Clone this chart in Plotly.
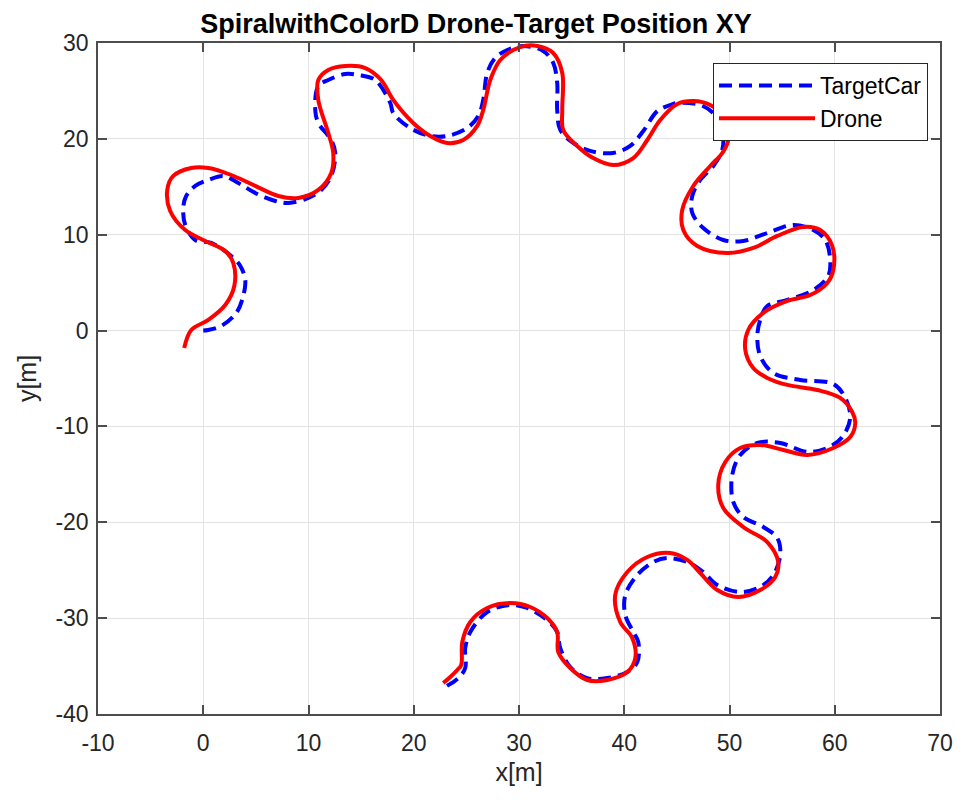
import plotly.graph_objects as go

# ---- Data (metres) ----
target_x = [0.0, 0.48, 1.71, 3.14, 3.80, 3.99, 3.52, 2.66, 0.76, -0.76, -1.71, -1.90, -1.62, -0.76,
            0.48, 1.90, 3.33, 4.94, 6.84, 8.08, 9.98, 11.21, 12.16, 12.54, 12.16, 10.93, 10.64, 10.93,
            11.88, 13.49, 14.73, 16.34, 17.77, 18.05, 19.67, 21.57, 23.18, 25.08, 26.13, 26.60, 26.98,
            27.74, 28.88, 30.40, 32.30, 33.25, 33.63, 33.63, 33.92, 35.15, 36.77, 38.95, 40.57, 41.81,
            43.14, 44.37, 45.04, 47.22, 48.46, 49.31, 49.31, 48.46, 47.22, 46.46, 46.46, 47.51, 49.41,
            51.31, 53.59, 56.06, 57.96, 59.10, 59.57, 59.38, 57.96, 55.49, 53.59, 52.92, 52.64, 52.92,
            54.16, 56.72, 59.86, 61.00, 61.47, 60.71, 59.29, 57.39, 54.82, 52.64, 51.02, 50.26, 50.36,
            51.31, 53.21, 54.54, 54.82, 54.16, 52.92, 51.02, 48.84, 47.51, 45.99, 44.09, 42.76, 41.24,
            40.10, 40.10, 40.86, 41.33, 41.24, 40.29, 38.38, 36.48, 34.87, 33.92, 33.63, 32.68, 30.78,
            29.17, 26.98, 25.37, 24.89, 24.89, 24.23, 22.80]
target_y = [0.0, 0.06, 0.48, 1.84, 3.61, 5.28, 6.74, 7.78, 9.14, 9.45, 11.02, 12.79, 14.04, 15.09,
            15.71, 16.13, 15.40, 14.36, 13.52, 13.31, 13.83, 14.67, 16.13, 18.53, 19.88, 21.66, 23.01,
            25.50, 26.14, 26.77, 26.67, 26.14, 23.74, 22.69, 21.13, 20.30, 20.30, 21.13, 22.38, 24.06,
            26.87, 28.44, 29.27, 29.69, 29.17, 27.92, 25.82, 23.01, 20.93, 19.57, 18.74, 18.53, 19.26,
            20.82, 22.90, 23.53, 23.74, 23.53, 22.69, 20.93, 18.84, 17.17, 15.71, 14.04, 12.27, 10.70,
            9.45, 9.35, 10.18, 11.02, 10.49, 9.45, 7.37, 5.70, 4.23, 3.19, 2.57, 1.11, -0.56, -2.65,
            -4.42, -5.15, -5.57, -7.03, -9.11, -11.11, -12.25, -12.66, -11.72, -11.72, -12.98, -15.06,
            -17.88, -19.44, -20.49, -21.64, -23.41, -25.50, -26.75, -27.28, -26.55, -25.19, -24.15,
            -23.73, -24.15, -25.50, -27.59, -29.67, -31.45, -32.49, -34.57, -35.62, -36.25, -36.25,
            -35.10, -33.12, -31.45, -30.20, -28.94, -28.63, -29.36, -31.45, -33.12, -35.20, -36.25,
            -37.29]

drone_x = [-1.81, -1.14, 0.48, 2.09, 2.95, 2.85, 2.09, 0.19, -1.71, -3.14, -3.42, -2.85, -1.14, 0.48,
           2.66, 4.94, 7.13, 9.03, 10.93, 12.16, 12.35, 11.88, 10.93, 10.93, 11.88, 13.49, 15.39, 16.91,
           18.05, 19.95, 21.57, 23.18, 24.70, 26.03, 26.60, 27.27, 28.22, 30.12, 31.74, 33.25, 34.11,
           34.11, 34.20, 35.53, 37.05, 38.95, 40.86, 42.19, 43.42, 45.04, 46.56, 48.17, 49.79, 49.88,
           49.31, 48.17, 46.56, 45.51, 45.61, 46.94, 49.79, 52.26, 54.54, 57.01, 58.62, 59.76, 59.86,
           59.29, 57.67, 55.49, 53.21, 51.78, 51.50, 52.26, 53.59, 55.49, 58.34, 60.52, 61.66, 61.95,
           61.47, 59.86, 57.39, 55.11, 52.92, 51.02, 49.60, 48.93, 49.41, 51.31, 53.59, 54.63, 54.35,
           52.92, 50.83, 48.84, 47.22, 45.99, 44.37, 42.19, 40.29, 39.14, 39.62, 40.76, 41.05, 40.29,
           38.38, 36.48, 34.87, 33.73, 33.63, 32.68, 31.07, 29.17, 26.98, 25.37, 24.61, 24.51, 24.13,
           23.47, 22.80]
drone_y = [-1.82, 0.06, 1.11, 2.67, 4.65, 7.05, 8.30, 9.35, 10.49, 12.48, 14.67, 16.13, 16.96, 16.96,
           16.23, 15.09, 14.04, 13.83, 14.67, 16.44, 18.53, 20.61, 24.06, 26.14, 27.19, 27.60, 27.39,
           26.14, 24.06, 21.66, 20.30, 19.57, 19.88, 21.35, 23.01, 26.14, 28.23, 29.58, 29.69, 28.96,
           26.87, 23.01, 20.93, 19.26, 18.00, 17.27, 18.00, 19.88, 21.96, 23.63, 23.94, 23.53, 21.96,
           19.88, 18.52, 17.17, 15.08, 12.58, 10.49, 8.83, 8.09, 8.62, 9.87, 10.81, 10.49, 8.83, 6.32,
           4.97, 3.71, 3.09, 1.84, 0.06, -2.02, -3.90, -4.94, -5.67, -6.20, -7.03, -8.49, -9.64, -11.11,
           -12.25, -12.98, -12.46, -11.93, -12.25, -13.71, -16.11, -18.51, -20.49, -22.06, -24.15,
           -25.71, -27.07, -27.80, -27.07, -25.29, -23.93, -23.20, -23.62, -25.19, -27.59, -30.40,
           -32.07, -34.16, -35.62, -36.45, -36.45, -35.20, -33.53, -31.45, -29.99, -28.84, -28.42,
           -28.94, -30.40, -32.49, -34.89, -35.41, -36.14, -36.77]

x_ticks = [-10, 0, 10, 20, 30, 40, 50, 60, 70]
y_ticks = [-40, -30, -20, -10, 0, 10, 20, 30]

FONT = "Liberation Sans, Arial, Helvetica, sans-serif"
AX = "#262626"

fig = go.Figure()
fig.add_trace(go.Scatter(
    x=target_x, y=target_y, mode="lines", name="TargetCar",
    line=dict(color="#0000ff", width=4, dash="13px,7px", shape="spline", smoothing=1.0),
))
fig.add_trace(go.Scatter(
    x=drone_x, y=drone_y, mode="lines", name="Drone",
    line=dict(color="#ff0000", width=4, shape="spline", smoothing=1.0),
))

axis_common = dict(
    showgrid=True, gridcolor="#e3e3e3", gridwidth=1,
    showline=True, linecolor="#4d4d4d", linewidth=1.5, mirror="ticks",
    ticks="inside", ticklen=9, tickwidth=1.5, tickcolor="#4d4d4d",
    zeroline=False,
    tickfont=dict(family=FONT, size=23, color=AX),
)

# The page body adds an 8px offset; margins compensate so the plot box
# lands at x 98..940, y 43..714 of the window.
fig.update_layout(
    width=968, height=800,
    margin=dict(l=90, r=36, t=35, b=94, autoexpand=False),
    paper_bgcolor="white", plot_bgcolor="white",
    title=dict(text="SpiralwithColorD Drone-Target Position XY",
               font=dict(family=FONT, size=27, color="black", weight="bold"),
               x=468 / 968, xanchor="center", xref="container",
               y=1 - 6 / 800, yanchor="top", yref="container", pad=dict(t=0, b=0)),
    xaxis=dict(range=[-10, 70], tickvals=x_ticks, ticktext=[str(v) for v in x_ticks],
               ticklabelstandoff=8,
               title=dict(text="x[m]", font=dict(family=FONT, size=25, color=AX), standoff=8),
               **axis_common),
    yaxis=dict(range=[-40, 30], tickvals=y_ticks, ticktext=[str(v) for v in y_ticks],
               ticklabelstandoff=3,
               title=dict(text="y[m]", font=dict(family=FONT, size=25, color=AX), standoff=12),
               **axis_common),
    legend=dict(x=(928 - 98) / 842, y=1 - (63 - 43) / 671, xanchor="right", yanchor="top",
                bgcolor="white", bordercolor="#262626", borderwidth=1,
                font=dict(family=FONT, size=23, color="black"),
                itemwidth=96,
                tracegroupgap=0),
    showlegend=True,
)

fig.write_html("out.html")
